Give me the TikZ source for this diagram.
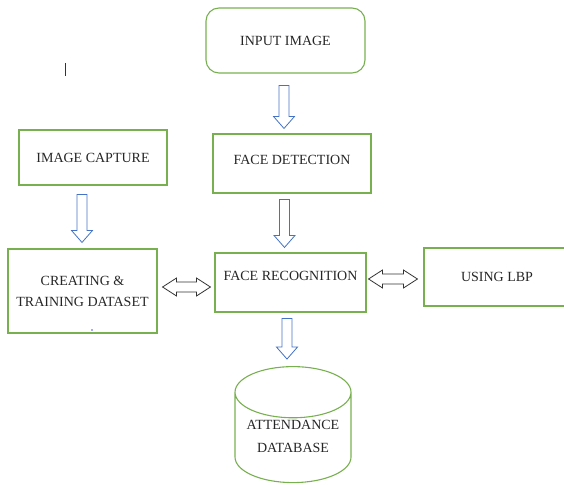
\documentclass[tikz,border=0pt]{standalone}
\usepackage{fontspec}
\setmainfont{Liberation Serif}
\usetikzlibrary{shapes.geometric,calc}

\definecolor{boxgreen}{RGB}{120,176,80}
\definecolor{arrowblue}{RGB}{68,114,196}

% hollow block arrow pointing down: #1 top of shaft, #2 tip
\newcommand{\hollowdown}[2]{%
  \draw[downarrow] let \p1=#1, \p2=#2 in
    (\x1-5pt,\y1) -- (\x1+5pt,\y1) -- (\x1+5pt,\y2+12pt) -- (\x1+10.5pt,\y2+12pt)
    -- (\x1,\y2) -- (\x1-10.5pt,\y2+12pt) -- (\x1-5pt,\y2+12pt) -- cycle;}
% hollow block arrow with heads at both ends: #1 left tip, #2 right tip
\newcommand{\hollowboth}[2]{%
  \draw[botharrow] let \p1=#1, \p2=#2 in
    (\x1,\y1) -- (\x1+14pt,\y1+9pt) -- (\x1+14pt,\y1+5pt) -- (\x2-14pt,\y1+5pt)
    -- (\x2-14pt,\y1+9pt) -- (\x2,\y1) -- (\x2-14pt,\y1-9pt) -- (\x2-14pt,\y1-5pt)
    -- (\x1+14pt,\y1-5pt) -- (\x1+14pt,\y1-9pt) -- cycle;}

\begin{document}
\begin{tikzpicture}[x=1pt,y=-1pt,
  font=\fontsize{14}{21}\selectfont,text=black!85]
  \tikzstyle{stepbox}=[draw=boxgreen,line width=1.1pt,inner sep=2pt]
  \tikzstyle{downarrow}=[draw=arrowblue,line width=0.8pt,fill=white]
  \tikzstyle{botharrow}=[draw=black!80,line width=0.8pt,fill=white]
  \useasboundingbox (0,0) rectangle (564,484);

  \node[stepbox,rounded corners=13pt,minimum width=159pt,minimum height=65pt]
       (input)   at (285.5,40.5) {INPUT IMAGE};
  \node[stepbox,minimum width=158pt,minimum height=59pt,text depth=7pt]
       (detect)  at (292,163.5)  {FACE DETECTION};
  \node[stepbox,minimum width=148pt,minimum height=55pt]
       (capture) at (93,157.5)   {IMAGE CAPTURE};
  \node[stepbox,minimum width=149pt,minimum height=84pt,align=center]
       (dataset) at (82.5,291)   {CREATING \&\\TRAINING DATASET};
  \node[stepbox,minimum width=151pt,minimum height=59pt,text depth=13pt]
       (recog)   at (290.5,282.5) {FACE RECOGNITION};
  \node[stepbox,minimum width=146pt,minimum height=58pt]
       (lbp)     at (497,277)    {USING LBP};
  \node[stepbox,cylinder,shape border rotate=90,aspect=0.53,
       minimum width=116pt,minimum height=116pt,align=center,text height=24pt,
       font=\fontsize{14}{23}\selectfont]
       (db)      at (293,441)    {ATTENDANCE\\DATABASE};

  \hollowdown{($(input.south)+(-1.5,12)$)}{($(detect.north)+(0,-5)$)}
  \hollowdown{($(detect.south)+(-7.5,6)$)}{($(recog.north)+(0,-5)$)}
  \hollowdown{($(capture.south)+(-11,9)$)}{($(dataset.north)+(0,-6)$)}
  \hollowdown{($(recog.south)+(-3.5,6)$)}{($(db.north)+(0,-7)$)}
  \hollowboth{($(dataset.east)+(5,-4)$)}{($(recog.west)+(-4,0)$)}
  \hollowboth{($(recog.east)+(2,-3.5)$)}{($(lbp.west)+(-6,0)$)}

  % stray marks
  \draw[line width=0.8pt,black!80] (65,63) -- (65,76);
  \fill[blue!70] (92,330) circle (0.8);
\end{tikzpicture}
\end{document}
